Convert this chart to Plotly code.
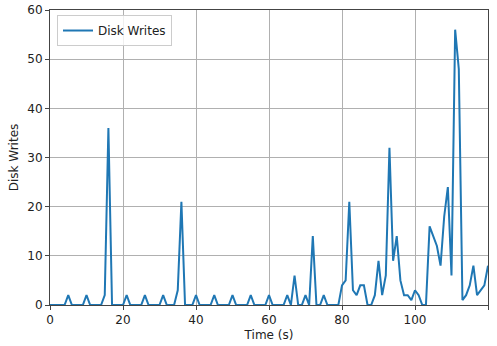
import plotly.graph_objects as go

time_s = list(range(0, 121))
disk_writes = [
    0, 0, 0, 0, 0, 2, 0, 0, 0, 0,      # 0-9
    2, 0, 0, 0, 0, 2, 36, 0, 0, 0,     # 10-19
    0, 2, 0, 0, 0, 0, 2, 0, 0, 0,      # 20-29
    0, 2, 0, 0, 0, 3, 21, 0, 0, 0,     # 30-39
    2, 0, 0, 0, 0, 2, 0, 0, 0, 0,      # 40-49
    2, 0, 0, 0, 0, 2, 0, 0, 0, 0,      # 50-59
    2, 0, 0, 0, 0, 2, 0, 6, 0, 0,      # 60-69
    2, 0, 14, 0, 0, 2, 0, 0, 0, 0,     # 70-79
    4, 5, 21, 3, 2, 4, 4, 0, 0, 2,     # 80-89
    9, 2, 6, 32, 9, 14, 5, 2, 2, 1,    # 90-99
    3, 2, 0, 0, 16, 14, 12, 8, 18, 24, # 100-109
    6, 56, 48, 1, 2, 4, 8, 2, 3, 4,    # 110-119
    8,                                 # 120
]
x_ticks = [0, 20, 40, 60, 80, 100, 120]
y_ticks = [0, 10, 20, 30, 40, 50, 60]

font_main = dict(family="DejaVu Sans", size=12, color="#222222")

fig = go.Figure()
fig.add_trace(go.Scatter(
    x=time_s, y=disk_writes, mode="lines", name="Disk Writes",
    line=dict(color="#1f77b4", width=2),
))

axis_common = dict(
    showgrid=True, gridcolor="#b0b0b0", gridwidth=1,
    showline=True, linecolor="#444444", linewidth=1, mirror=True,
    ticks="outside", ticklen=4, tickcolor="#444444",
    zeroline=False, automargin=False,
    tickfont=font_main,
)

fig.update_layout(
    width=497, height=346,
    margin=dict(l=50, r=9, t=10, b=41),
    paper_bgcolor="white", plot_bgcolor="white",
    showlegend=True,
    legend=dict(
        x=0.016, y=0.983, xanchor="left", yanchor="top",
        bgcolor="rgba(255,255,255,0.8)", bordercolor="#cccccc", borderwidth=1,
        font=font_main,
    ),
    xaxis=dict(
        range=[0, 120], tickvals=x_ticks,
        title=dict(text="Time (s)", font=font_main, standoff=4),
        **axis_common,
    ),
    yaxis=dict(
        range=[0, 60], tickvals=y_ticks,
        title=dict(text="Disk Writes", font=font_main, standoff=6),
        **axis_common,
    ),
)

fig.write_html("out.html")
